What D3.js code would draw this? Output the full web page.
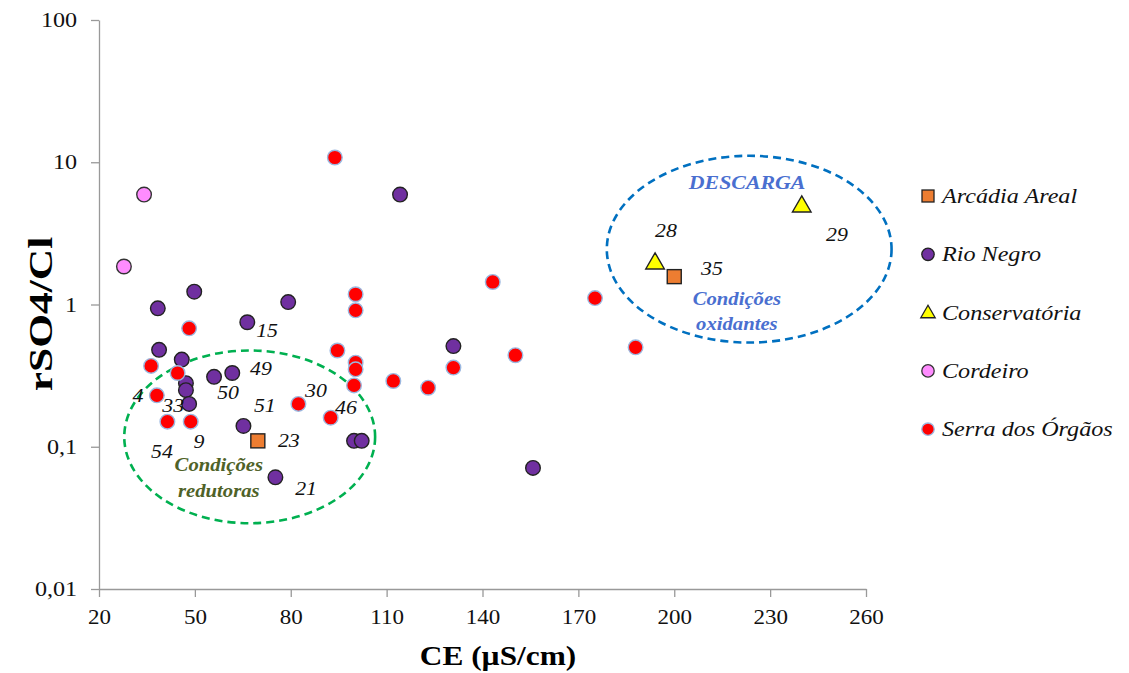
<!DOCTYPE html>
<html lang="pt">
<head>
<meta charset="utf-8" />
<title>rSO4/Cl vs CE</title>
<script src="https://d3js.org/d3.v7.min.js"></script>
<style>
    body { margin: 0; background: #fff; }
    svg { font-family: "Liberation Serif", "Times New Roman", serif; }
    .tick text { fill: #111; font-family: "Liberation Serif", "Times New Roman", serif; }
    .num { font-size: 19px; font-style: italic; fill: #111; }
</style>
</head>
<body>
<div id="chart"></div>
<script>
// ---- data ----
var xTicks = [20, 50, 80, 110, 140, 170, 200, 230, 260];
var yTicks = [0.01, 0.1, 1, 10, 100];

var arcadiaCE = [69.7, 200.0];
var arcadiaR = [0.11, 1.57];

var rioNegroCE = [49.8, 38.4, 79.2, 66.4, 38.8, 45.9, 47.2, 47.2, 48.2, 56.0, 61.7, 65.2, 75.2, 114.2, 130.9, 99.8, 102.2, 155.8];
var rioNegroR = [1.23, 0.94, 1.04, 0.75, 0.48, 0.41, 0.28, 0.25, 0.20, 0.31, 0.33, 0.14, 0.061, 5.93, 0.51, 0.11, 0.11, 0.071];

var conservCE = [194.0, 239.9];
var conservR = [1.94, 4.88];

var cordeiroCE = [34.1, 27.8];
var cordeiroR = [5.93, 1.85];

var serraCE = [48.2, 36.3, 44.6, 38.1, 41.4, 48.7, 82.4, 93.8, 100.3, 100.3, 94.6, 100.3, 100.3, 99.8, 92.5, 112.1, 123.0, 130.9, 143.2, 175.2, 150.3, 187.9];
var serraR = [0.68, 0.37, 0.33, 0.23, 0.15, 0.15, 0.20, 10.8, 1.18, 0.91, 0.475, 0.39, 0.35, 0.27, 0.16, 0.29, 0.26, 0.36, 1.44, 1.11, 0.44, 0.50];

var sampleIds = ['4', '33', '54', '9', '50', '49', '51', '15', '23', '21', '30', '46', '28', '35', '29'];
var sampleCE = [32.2, 43.2, 39.7, 51.3, 60.4, 70.7, 71.9, 72.6, 79.4, 84.8, 87.9, 97.3, 197.4, 211.8, 250.9];
var sampleR = [0.229, 0.195, 0.093, 0.109, 0.241, 0.355, 0.195, 0.657, 0.111, 0.051, 0.249, 0.189, 3.31, 1.79, 3.10];

var seriesNames = ['Arcádia Areal', 'Rio Negro', 'Conservatória', 'Cordeiro', 'Serra dos Órgãos'];

(function() {
    'use strict';

    var width = 1129, height = 673;
    var left = 99, right = 866, plotTop = 20, plotBottom = 589;
    var sx = 1.15; // the original Times text is drawn wider

    var svg = d3.select('#chart').append('svg')
        .attr('width', width)
        .attr('height', height);

    var x = d3.scaleLinear().domain([20, 260]).range([left, right]);
    var y = d3.scaleLog().domain([0.01, 100]).range([plotBottom, plotTop]);

    // text placed at (px,py) and stretched sideways
    function wideText(parent, px, py, rot, k) {
        return parent.append('text')
            .attr('transform', 'translate(' + px + ',' + py + ')' +
                (rot ? ' rotate(' + rot + ')' : '') + ' scale(' + (k || sx) + ',1)');
    }

    var xAxis = d3.axisBottom(x).tickValues(xTicks).tickSize(8).tickSizeOuter(0).tickPadding(13);
    var yAxis = d3.axisLeft(y).tickValues(yTicks).tickSize(8).tickSizeOuter(0).tickPadding(11)
        .tickFormat(function(d) { return String(d).replace('.', ','); });

    var gx = svg.append('g').attr('transform', 'translate(0,' + plotBottom + ')').call(xAxis);
    var gy = svg.append('g').attr('transform', 'translate(' + left + ',0)').call(yAxis);
    [gx, gy].forEach(function(g) {
        g.attr('font-family', null).attr('font-size', null);
        g.select('.domain').attr('stroke', '#999').attr('stroke-width', 1.3);
        g.selectAll('.tick line').attr('stroke', '#999').attr('stroke-width', 1.3);
        g.selectAll('.tick text').attr('transform', 'scale(' + sx + ',1)');
    });
    gx.selectAll('.tick text').style('font-size', '20px');
    gy.selectAll('.tick text').style('font-size', '21px');

    // axis titles
    wideText(svg, 498, 665, 0, 1.12)
        .attr('text-anchor', 'middle')
        .style('font-size', '28px').style('font-weight', 'bold')
        .text('CE (µS/cm)');
    wideText(svg, 40, 314, -90, 1.28)
        .attr('text-anchor', 'middle')
        .attr('dominant-baseline', 'central')
        .style('font-size', '34px').style('font-weight', 'bold')
        .text('rSO4/Cl');

    // ellipses
    function ellipse(x0, x1, y0, y1, color) {
        svg.append('ellipse')
            .attr('cx', (x(x0) + x(x1)) / 2)
            .attr('cy', (y(y0) + y(y1)) / 2)
            .attr('rx', Math.abs(x(x1) - x(x0)) / 2)
            .attr('ry', Math.abs(y(y1) - y(y0)) / 2)
            .attr('fill', 'none')
            .attr('stroke', color)
            .attr('stroke-width', 2.6)
            .attr('stroke-dasharray', '8,5');
    }
    ellipse(27.9, 106.4, 0.475, 0.029, '#00b050');
    ellipse(178.9, 268.0, 11.1, 0.54, '#0070c0');

    function note(lines, cx, cy, color, size) {
        lines.forEach(function(l, i) {
            wideText(svg, x(cx), y(cy) + i * 25.5)
                .attr('text-anchor', 'middle')
                .style('font-size', size + 'px')
                .style('font-weight', 'bold')
                .style('font-style', 'italic')
                .attr('fill', color)
                .text(l);
        });
    }
    note(['DESCARGA'], 222.8, 6.53, '#4a6fd0', 19);
    note(['Condições', 'oxidantes'], 219.6, 1.0, '#4a6fd0', 18);
    note(['Condições', 'redutoras'], 57.5, 0.067, '#4f6228', 18);

    // markers
    function pairs(xs, ys) {
        return xs.map(function(v, i) { return [v, ys[i]]; });
    }
    function circles(xs, ys, fill, stroke) {
        svg.append('g').selectAll('circle')
            .data(pairs(xs, ys))
            .enter().append('circle')
            .attr('cx', function(d) { return x(d[0]); })
            .attr('cy', function(d) { return y(d[1]); })
            .attr('r', 7.3)
            .attr('fill', fill)
            .attr('stroke', stroke)
            .attr('stroke-width', 1.4);
    }
    function squares(xs, ys) {
        svg.append('g').selectAll('rect')
            .data(pairs(xs, ys))
            .enter().append('rect')
            .attr('x', function(d) { return x(d[0]) - 7; })
            .attr('y', function(d) { return y(d[1]) - 7; })
            .attr('width', 14).attr('height', 14)
            .attr('fill', '#ed7d31')
            .attr('stroke', '#222')
            .attr('stroke-width', 1.4);
    }
    function triangles(xs, ys) {
        var sym = d3.symbol().type(d3.symbolTriangle).size(150);
        svg.append('g').selectAll('path')
            .data(pairs(xs, ys))
            .enter().append('path')
            .attr('d', sym)
            .attr('transform', function(d) { return 'translate(' + x(d[0]) + ',' + y(d[1]) + ')'; })
            .attr('fill', '#ffff00')
            .attr('stroke', '#222')
            .attr('stroke-width', 1.4);
    }

    circles(cordeiroCE, cordeiroR, '#ff8cff', '#333');
    circles(rioNegroCE, rioNegroR, '#7030a0', '#222');
    circles(serraCE, serraR, '#ff0000', '#9bb8e0');
    squares(arcadiaCE, arcadiaR);
    triangles(conservCE, conservR);

    // sample numbers
    var numG = svg.append('g');
    sampleIds.forEach(function(d, i) {
        wideText(numG, x(sampleCE[i]), y(sampleR[i]))
            .attr('class', 'num')
            .attr('text-anchor', 'middle')
            .attr('dominant-baseline', 'central')
            .text(d);
    });

    // legend
    var legend = svg.selectAll('.legend')
        .data(seriesNames)
        .enter().append('g')
        .attr('class', 'legend')
        .attr('transform', function(d, i) { return 'translate(928,' + (196 + i * 58.3) + ')'; });

    var fills = ['#ed7d31', '#7030a0', '#ffff00', '#ff8cff', '#ff0000'];
    var strokes = ['#222', '#222', '#222', '#333', '#9bb8e0'];

    legend.each(function(d, i) {
        var g = d3.select(this);
        if (i === 0) {
            g.append('rect').attr('x', -6).attr('y', -6).attr('width', 12).attr('height', 12);
        } else if (i === 2) {
            g.append('path').attr('d', d3.symbol().type(d3.symbolTriangle).size(90))
                .attr('transform', 'translate(0,1)');
        } else {
            g.append('circle').attr('r', 6.2);
        }
        g.select(':first-child')
            .attr('fill', fills[i]).attr('stroke', strokes[i]).attr('stroke-width', 1.3);
        wideText(g, 14, 0)
            .attr('dominant-baseline', 'central')
            .style('font-size', '21px').style('font-style', 'italic')
            .attr('fill', '#111')
            .text(d);
    });
})();
</script>
</body>
</html>
